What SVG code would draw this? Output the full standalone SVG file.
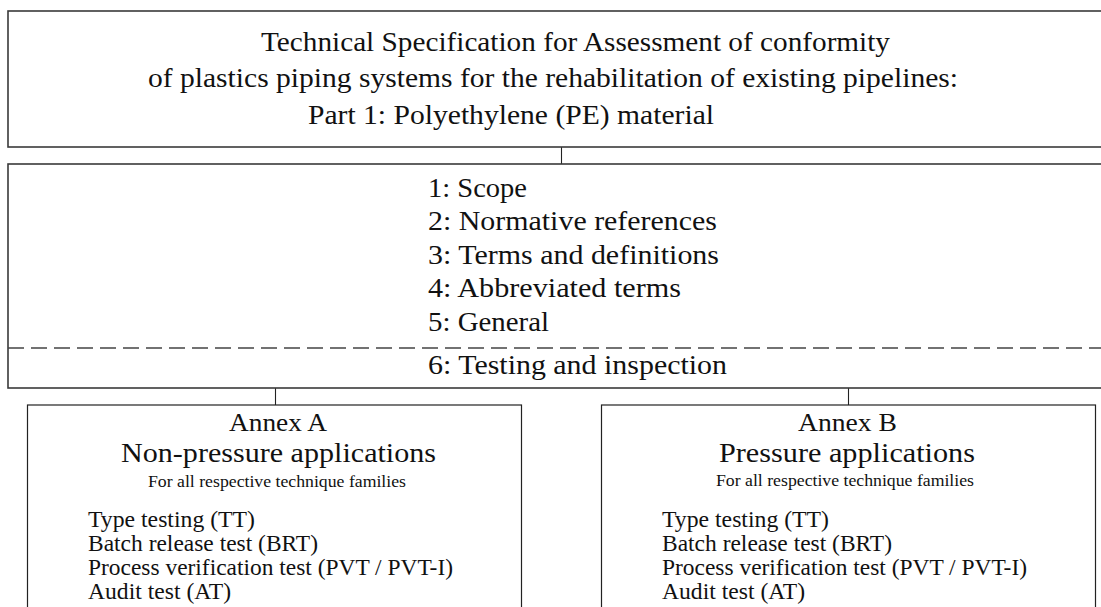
<svg xmlns="http://www.w3.org/2000/svg" width="1101" height="607" viewBox="0 0 1101 607">
<style>
.box{fill:#fff;stroke:#3a3a3a;stroke-width:1.6}
.abox{fill:#fff;stroke:#222;stroke-width:1.2}
.conn{stroke:#222;stroke-width:1.1;fill:none}
.dash{stroke:#444;stroke-width:1.6;stroke-dasharray:16 7;fill:none}
text{font-family:"Liberation Serif","Times New Roman",serif;fill:#111}
.t{font-size:27px}
.l{font-size:27px}
.h{font-size:26px}
.h2{font-size:28px}
.s{font-size:16px}
.i{font-size:23px}
</style>
<g id="connectors">
<line class="conn" x1="561.5" y1="147" x2="561.5" y2="164"/>
<line class="conn" x1="275.5" y1="388" x2="275.5" y2="405"/>
<line class="conn" x1="848.5" y1="388" x2="848.5" y2="405"/>
</g>
<g id="title">
<rect class="box" x="8" y="11" width="1110" height="136"/>
<text class="t" x="261" y="51" textLength="629" lengthAdjust="spacingAndGlyphs">Technical Specification for Assessment of conformity</text>
<text class="t" x="148" y="87" textLength="810" lengthAdjust="spacingAndGlyphs">of plastics piping systems for the rehabilitation of existing pipelines:</text>
<text class="t" x="308" y="124" textLength="406" lengthAdjust="spacingAndGlyphs">Part 1: Polyethylene (PE) material</text>
</g>
<g id="clauses">
<rect class="box" x="8" y="164" width="1110" height="224"/>
<line class="dash" x1="8" y1="348" x2="1101" y2="348"/>
<text class="l" x="428" y="197" textLength="99" lengthAdjust="spacingAndGlyphs">1: Scope</text>
<text class="l" x="428" y="230" textLength="289" lengthAdjust="spacingAndGlyphs">2: Normative references</text>
<text class="l" x="428" y="264" textLength="291" lengthAdjust="spacingAndGlyphs">3: Terms and definitions</text>
<text class="l" x="428" y="297" textLength="253" lengthAdjust="spacingAndGlyphs">4: Abbreviated terms</text>
<text class="l" x="428" y="331" textLength="121" lengthAdjust="spacingAndGlyphs">5: General</text>
<text class="l" x="428" y="374" textLength="299" lengthAdjust="spacingAndGlyphs">6: Testing and inspection</text>
</g>
<g id="annexA">
<rect class="abox" x="27.5" y="405" width="494" height="220"/>
<text class="h" x="229" y="431" textLength="98" lengthAdjust="spacingAndGlyphs">Annex A</text>
<text class="h2" x="121" y="462" textLength="315" lengthAdjust="spacingAndGlyphs">Non-pressure applications</text>
<text class="s" x="148" y="487" textLength="258" lengthAdjust="spacingAndGlyphs">For all respective technique families</text>
<text class="i" x="88" y="527" textLength="167" lengthAdjust="spacingAndGlyphs">Type testing (TT)</text>
<text class="i" x="88" y="551" textLength="230" lengthAdjust="spacingAndGlyphs">Batch release test (BRT)</text>
<text class="i" x="88" y="575" textLength="365" lengthAdjust="spacingAndGlyphs">Process verification test (PVT / PVT-I)</text>
<text class="i" x="88" y="599" textLength="143" lengthAdjust="spacingAndGlyphs">Audit test (AT)</text>
</g>
<g id="annexB">
<rect class="abox" x="601.5" y="405" width="494" height="220"/>
<text class="h" x="798" y="431" textLength="99" lengthAdjust="spacingAndGlyphs">Annex B</text>
<text class="h2" x="719" y="462" textLength="256" lengthAdjust="spacingAndGlyphs">Pressure applications</text>
<text class="s" x="716" y="486" textLength="258" lengthAdjust="spacingAndGlyphs">For all respective technique families</text>
<text class="i" x="662" y="527" textLength="167" lengthAdjust="spacingAndGlyphs">Type testing (TT)</text>
<text class="i" x="662" y="551" textLength="230" lengthAdjust="spacingAndGlyphs">Batch release test (BRT)</text>
<text class="i" x="662" y="575" textLength="365" lengthAdjust="spacingAndGlyphs">Process verification test (PVT / PVT-I)</text>
<text class="i" x="662" y="599" textLength="143" lengthAdjust="spacingAndGlyphs">Audit test (AT)</text>
</g>
</svg>
